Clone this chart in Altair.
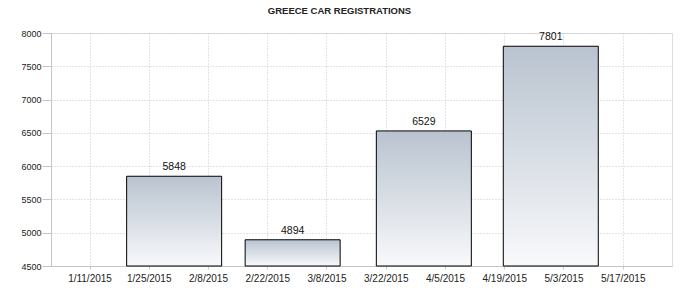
import altair as alt
import pandas as pd

MONTH_END = ["2015-01-31T00:00:00", "2015-02-28T00:00:00", "2015-03-31T00:00:00", "2015-04-30T00:00:00"]
REGISTRATIONS = [5848, 4894, 6529, 7801]
X_TICKS = [(1, 11), (1, 25), (2, 8), (2, 22), (3, 8), (3, 22), (4, 5), (4, 19), (5, 3), (5, 17)]
Y_TICKS = [4500, 5000, 5500, 6000, 6500, 7000, 7500, 8000]
TITLE = "GREECE CAR REGISTRATIONS"

df = pd.DataFrame({"date": MONTH_END, "value": REGISTRATIONS})

FONT = "Liberation Sans"
GRID = "#c9c9c9"

x_enc = alt.X(
    "date:T",
    scale=alt.Scale(
        domain=[alt.DateTime(year=2015, month=1, date=3, hours=2),
                alt.DateTime(year=2015, month=5, date=27, hours=11)],
        nice=False,
    ),
    axis=alt.Axis(
        title=None,
        values=[alt.DateTime(year=2015, month=m, date=d) for m, d in X_TICKS],
        format="%-m/%-d/%Y",
        labelFont=FONT, labelFontSize=10, labelColor="#222",
        labelPadding=4, tickSize=3, tickColor=GRID,
        domainColor="#c4c4c4",
        grid=True, gridColor=GRID, gridDash=[1, 2],
        labelFlush=False, labelOverlap=False,
    ),
)
y_enc = alt.Y(
    "value:Q",
    scale=alt.Scale(domain=[Y_TICKS[0], Y_TICKS[-1]], nice=False, zero=False),
    axis=alt.Axis(
        title=None,
        values=Y_TICKS,
        format="d",
        labelFont=FONT, labelFontSize=9, labelColor="#222",
        labelPadding=1, tickSize=9, tickColor="#c4c4c4",
        domainColor="#c4c4c4",
        grid=True, gridColor=GRID, gridDash=[1, 2],
        labelOverlap=False, labelFlush=False, labelBound=False,
    ),
)

gradient = alt.Gradient(
    gradient="linear",
    stops=[alt.GradientStop(color="#b9c3cf", offset=0),
           alt.GradientStop(color="#f8f9fb", offset=1)],
    x1=0, x2=0, y1=0, y2=1,
)

bars = alt.Chart(df).mark_bar(size=95, color=gradient, stroke="#000", strokeWidth=1).encode(
    x=x_enc, y=y_enc, y2=alt.datum(Y_TICKS[0])
)
labels = alt.Chart(df).mark_text(
    font=FONT, fontSize=10.5, color="#111", baseline="alphabetic", dy=-6
).encode(x=x_enc, y=y_enc, text="value:Q")

chart = (bars + labels).properties(
    width=621, height=233,
    title=alt.TitleParams(
        TITLE, font=FONT, fontSize=9.5, fontWeight="bold", color="#222",
        anchor="middle", dx=-22, offset=14,
    ),
    autosize=alt.AutoSizeParams(type="none"),
    padding={"left": 51, "top": 33, "right": 26, "bottom": 24},
).configure_view(stroke=None).configure(background="white")

chart.save("out.html", embed_options={"renderer": "svg", "actions": False})
